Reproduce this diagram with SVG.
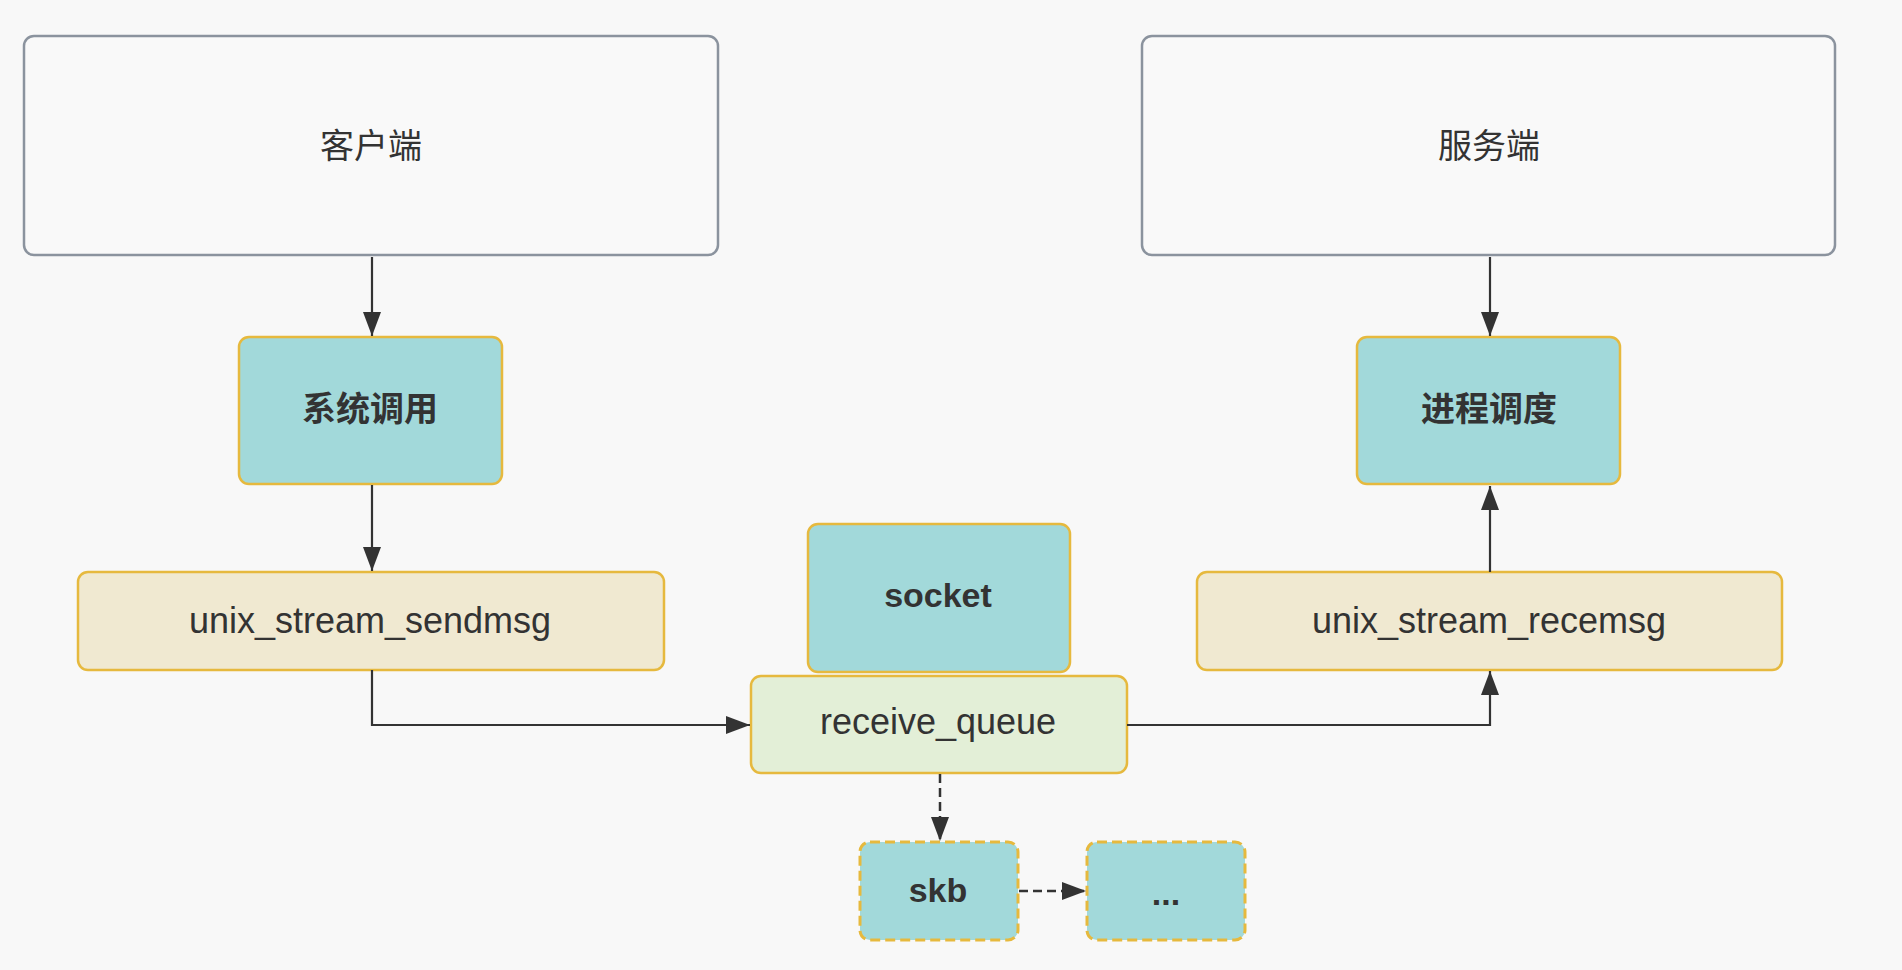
<svg xmlns="http://www.w3.org/2000/svg" width="1902" height="970" viewBox="0 0 1902 970">
<defs>
<marker id="arr" viewBox="0 0 24 18" refX="24" refY="9" markerWidth="24" markerHeight="18" markerUnits="userSpaceOnUse" orient="auto">
<path d="M0,0 L24,9 L0,18 Z" fill="#333333"/>
</marker>
<style>
.plain{fill:#f9f9f9;stroke:#8b939e;stroke-width:2.5}
.teal{fill:#a2d9da;stroke:#e6b93e;stroke-width:2.5}
.beige{fill:#f0e9d1;stroke:#e6b93e;stroke-width:2.5}
.green{fill:#e3efd7;stroke:#e6b93e;stroke-width:2.5}
.dteal{fill:#a2d9da;stroke:#e6b93e;stroke-width:3;stroke-dasharray:10 5}
.t{font-family:"Liberation Sans","Noto Sans CJK SC",sans-serif;fill:#333333;text-anchor:middle}
.cn{font-size:34px}
.b{font-weight:bold;font-size:34px}
.m{font-size:36px}
.c{fill:none;stroke:#333333;stroke-width:2.2}
.d{stroke-dasharray:9 5;stroke-width:2.5}
</style>
</defs>
<rect width="1902" height="970" fill="#f8f8f8"/>
<g id="client">
<rect class="plain" x="24" y="36" width="694" height="219" rx="10"/>
<text class="t cn" x="371" y="158">客户端</text>
</g>
<g id="server">
<rect class="plain" x="1142" y="36" width="693" height="219" rx="10"/>
<text class="t cn" x="1489" y="158">服务端</text>
</g>
<g id="syscall">
<rect class="teal" x="239" y="337" width="263" height="147" rx="10"/>
<text class="t b" x="370" y="421">系统调用</text>
</g>
<g id="sched">
<rect class="teal" x="1357" y="337" width="263" height="147" rx="10"/>
<text class="t b" x="1489" y="421">进程调度</text>
</g>
<g id="sendmsg">
<rect class="beige" x="78" y="572" width="586" height="98" rx="10"/>
<text class="t m" x="370" y="633">unix_stream_sendmsg</text>
</g>
<g id="recemsg">
<rect class="beige" x="1197" y="572" width="585" height="98" rx="10"/>
<text class="t m" x="1489" y="633">unix_stream_recemsg</text>
</g>
<g id="socket">
<rect class="teal" x="808" y="524" width="262" height="148" rx="10"/>
<text class="t b" x="938" y="607">socket</text>
</g>
<g id="receive_queue">
<rect class="green" x="751" y="676" width="376" height="97" rx="10"/>
<text class="t m" x="938" y="734">receive_queue</text>
</g>
<g id="skb">
<rect class="dteal" x="860" y="842" width="158" height="98" rx="10"/>
<text class="t b" x="938" y="902">skb</text>
</g>
<g id="more">
<rect class="dteal" x="1087" y="842" width="158" height="98" rx="10"/>
<text class="t b" x="1166" y="905">...</text>
</g>
<g id="connectors">
<path class="c" d="M372,257 V336" marker-end="url(#arr)"/>
<path class="c" d="M372,485 V571" marker-end="url(#arr)"/>
<path class="c" d="M372,670 V725 H750" marker-end="url(#arr)"/>
<path class="c" d="M1127,725 H1490 V671" marker-end="url(#arr)"/>
<path class="c" d="M1490,572 V486" marker-end="url(#arr)"/>
<path class="c" d="M1490,257 V336" marker-end="url(#arr)"/>
<path class="c d" d="M940,774 V841" marker-end="url(#arr)"/>
<path class="c d" d="M1019,891 H1086" marker-end="url(#arr)"/>
</g>
</svg>
